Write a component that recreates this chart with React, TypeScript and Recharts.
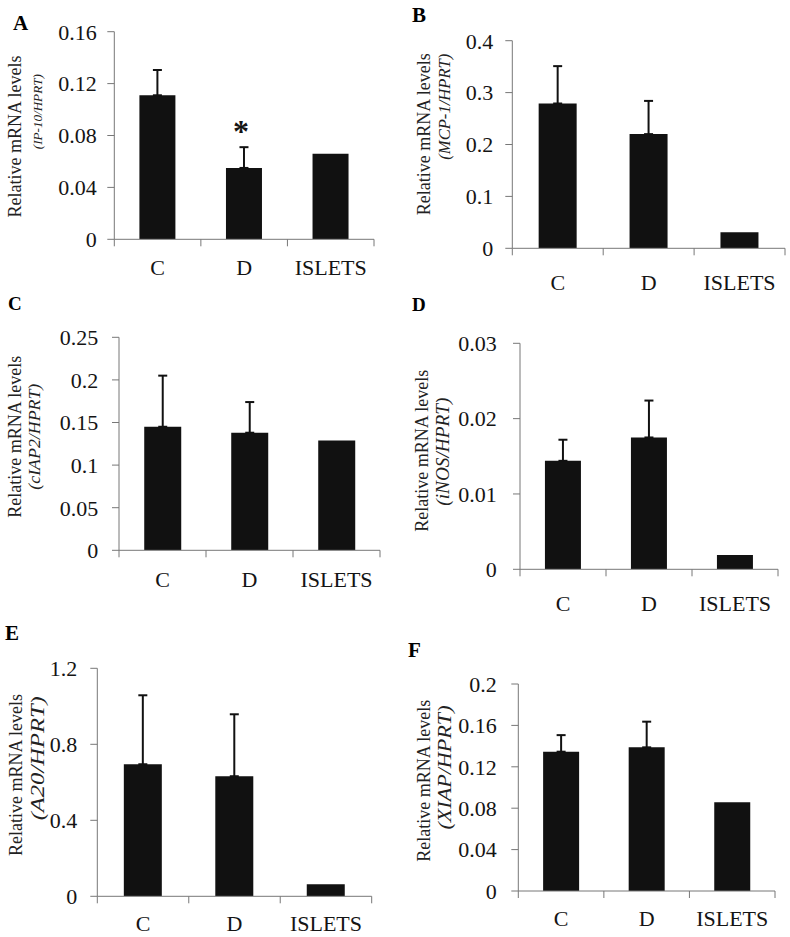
import React from 'react';
import { BarChart, Bar, XAxis, YAxis, ErrorBar, LabelList } from 'recharts';

const FONT = '"Liberation Serif", "Times New Roman", Times, serif';

// ---------- data ----------
const categories = ['C', 'D', 'ISLETS'];

const ip10Mean = [0.111, 0.055, 0.066];
const ip10Err = [0.0195, 0.016, null];
const ip10Sig = ['', '*', ''];
const ip10Ticks = [0, 0.04, 0.08, 0.12, 0.16];

const mcp1Mean = [0.279, 0.22, 0.031];
const mcp1Err = [0.072, 0.064, null];
const mcp1Ticks = [0, 0.1, 0.2, 0.3, 0.4];

const ciap2Mean = [0.145, 0.138, 0.129];
const ciap2Err = [0.06, 0.036, null];
const ciap2Ticks = [0, 0.05, 0.1, 0.15, 0.2, 0.25];

const inosMean = [0.0144, 0.0175, 0.0019];
const inosErr = [0.0028, 0.0049, null];
const inosTicks = [0, 0.01, 0.02, 0.03];

const a20Mean = [0.695, 0.632, 0.063];
const a20Err = [0.363, 0.326, null];
const a20Ticks = [0, 0.4, 0.8, 1.2];

const xiapMean = [0.1346, 0.1388, 0.0857];
const xiapErr = [0.016, 0.0248, null];
const xiapTicks = [0, 0.04, 0.08, 0.12, 0.16, 0.2];

const yLabelMain = 'Relative mRNA levels';

type Row = { name: string; value: number; err: number[] | null; sig: string };

function buildRows(mean: number[], err: (number | null)[], sig?: string[]): Row[] {
  return categories.map((c, i) => ({
    name: c,
    value: mean[i],
    err: err[i] == null ? null : [0, err[i] as number],
    sig: sig ? sig[i] : '',
  }));
}

// ---------- layout ----------
const panels = [
  {
    letter: 'A', gene: '(IP-10/HPRT)', rows: buildRows(ip10Mean, ip10Err, ip10Sig), ticks: ip10Ticks,
    box: { x: 0, y: 0, w: 395, h: 290 }, margin: { top: 31.7, right: 21, bottom: 10.7, left: 54.3 },
    tickMargin: 10.6, xDy: 35.7,
    letterPos: { x: 13, y: 30, size: 21 },
    l1: { x: 21, y: 136.5 }, l2: { x: 42.5, y: 111.7, size: 13, len: 75 },
  },
  {
    letter: 'B', gene: '(MCP-1/HPRT)', rows: buildRows(mcp1Mean, mcp1Err), ticks: mcp1Ticks,
    box: { x: 395, y: 0, w: 395, h: 300 }, margin: { top: 40.7, right: 5, bottom: 11.7, left: 57.3 },
    tickMargin: 12, xDy: 42,
    letterPos: { x: 412, y: 22, size: 21 },
    l1: { x: 430, y: 134.2 }, l2: { x: 450.5, y: 106.7, size: 16, len: 106 },
  },
  {
    letter: 'C', gene: '(cIAP2/HPRT)', rows: buildRows(ciap2Mean, ciap2Err), ticks: ciap2Ticks,
    box: { x: 0, y: 290, w: 395, h: 320 }, margin: { top: 47.3, right: 15, bottom: 19.7, left: 59 },
    tickMargin: 13.7, xDy: 37,
    letterPos: { x: 8, y: 310, size: 19 },
    l1: { x: 21.5, y: 436.7 }, l2: { x: 40, y: 436.7, size: 17, len: 106 },
  },
  {
    letter: 'D', gene: '(iNOS/HPRT)', rows: buildRows(inosMean, inosErr), ticks: inosTicks,
    box: { x: 395, y: 300, w: 395, h: 320 }, margin: { top: 43.3, right: 12, bottom: 10.7, left: 65 },
    tickMargin: 16.3, xDy: 41.5,
    letterPos: { x: 412, y: 311, size: 19 },
    l1: { x: 428.5, y: 450.8 }, l2: { x: 449, y: 451.7, size: 18, len: 108 },
  },
  {
    letter: 'E', gene: '(A20/HPRT)', rows: buildRows(a20Mean, a20Err), ticks: a20Ticks,
    box: { x: 0, y: 610, w: 395, h: 327 }, margin: { top: 58.3, right: 23.3, bottom: 0.7, left: 37.3 },
    tickMargin: 13, xDy: 35,
    letterPos: { x: 5, y: 640, size: 21 },
    l1: { x: 21.5, y: 775 }, l2: { x: 44, y: 758.3, size: 18, len: 124 },
  },
  {
    letter: 'F', gene: '(XIAP/HPRT)', rows: buildRows(xiapMean, xiapErr), ticks: xiapTicks,
    box: { x: 395, y: 610, w: 395, h: 327 }, margin: { top: 74, right: 15, bottom: 6, left: 63.3 },
    tickMargin: 14.6, xDy: 35,
    letterPos: { x: 408, y: 657, size: 21 },
    l1: { x: 430, y: 780.8 }, l2: { x: 450.5, y: 767.5, size: 18, len: 124 },
  },
];

const AXIS = '#777';
const INK = '#141414';
const BAR = '#111111';

function makeXTick(dy: number, fallbackHalf: number) {
  return (props: any) => {
    const { x, y, payload, index, visibleTicksCount } = props;
    const half = payload && typeof payload.offset === 'number' && payload.offset > 0 ? payload.offset : fallbackHalf;
    const last = index === (visibleTicksCount ?? categories.length) - 1;
    return (
      <g>
        <line x1={x - half} x2={x - half} y1={y} y2={y + 7} stroke={AXIS} strokeWidth={1} />
        {last ? <line x1={x + half} x2={x + half} y1={y} y2={y + 7} stroke={AXIS} strokeWidth={1} /> : null}
        <text x={x} y={y + dy} textAnchor="middle" fontSize={22} fill={INK} fontFamily={FONT}>
          {payload.value}
        </text>
      </g>
    );
  };
}

const renderSig = (props: any) => {
  const { x, y, width, value } = props;
  if (!value) return null;
  return (
    <text x={x + width / 2 - 3} y={y - 26} textAnchor="middle" fontSize={32} fontWeight="bold" fill={INK} fontFamily={FONT}>
      {value}
    </text>
  );
};

const fmt = (v: number) => (v === 0 ? '0' : String(v));

export default function App() {
  return (
    <div style={{ position: 'absolute', left: 0, top: 0, width: 790, height: 937, background: '#fff', fontFamily: FONT }}>
      {panels.map((p) => {
        const plotW = p.box.w - p.margin.left - 60 - p.margin.right;
        const half = plotW / categories.length / 2;
        const yMax = p.ticks[p.ticks.length - 1];
        return (
          <div key={p.letter} style={{ position: 'absolute', left: p.box.x, top: p.box.y }}>
            <BarChart width={p.box.w} height={p.box.h} data={p.rows} margin={p.margin} barCategoryGap="29%">
              <XAxis
                dataKey="name"
                axisLine={{ stroke: AXIS, strokeWidth: 1 }}
                tickLine={false}
                tickSize={0}
                tickMargin={0}
                height={40}
                interval={0}
                tick={makeXTick(p.xDy, half)}
              />
              <YAxis
                width={60}
                domain={[0, yMax]}
                ticks={p.ticks}
                interval={0}
                allowDataOverflow
                axisLine={{ stroke: AXIS, strokeWidth: 1 }}
                tickLine={{ stroke: AXIS, strokeWidth: 1 }}
                tickSize={7}
                tickMargin={p.tickMargin}
                tickFormatter={fmt}
                tick={{ fontSize: 22, fill: INK, fontFamily: FONT }}
              />
              <Bar dataKey="value" fill={BAR} isAnimationActive={false}>
                <ErrorBar dataKey="err" direction="y" width={4.5} strokeWidth={2} stroke={BAR} />
                {p.rows.some((r) => r.sig) ? <LabelList dataKey="sig" content={renderSig} /> : null}
              </Bar>
            </BarChart>
          </div>
        );
      })}
      <svg width={790} height={937} style={{ position: 'absolute', left: 0, top: 0, pointerEvents: 'none' }}>
        {panels.map((p) => (
          <g key={p.letter}>
            <text x={p.letterPos.x} y={p.letterPos.y} fontSize={p.letterPos.size} fontWeight="bold" fill="#000" fontFamily={FONT}>
              {p.letter}
            </text>
            <text
              x={p.l1.x}
              y={p.l1.y}
              transform={`rotate(-90, ${p.l1.x}, ${p.l1.y})`}
              textAnchor="middle"
              fontSize={18}
              fill="#222"
              fontFamily={FONT}
            >
              {yLabelMain}
            </text>
            <text
              x={p.l2.x}
              y={p.l2.y}
              transform={`rotate(-90, ${p.l2.x}, ${p.l2.y})`}
              textAnchor="middle"
              fontSize={p.l2.size}
              fontStyle="italic"
              fill="#222"
              fontFamily={FONT}
              textLength={p.l2.len}
              lengthAdjust="spacingAndGlyphs"
            >
              {p.gene}
            </text>
          </g>
        ))}
      </svg>
    </div>
  );
}
